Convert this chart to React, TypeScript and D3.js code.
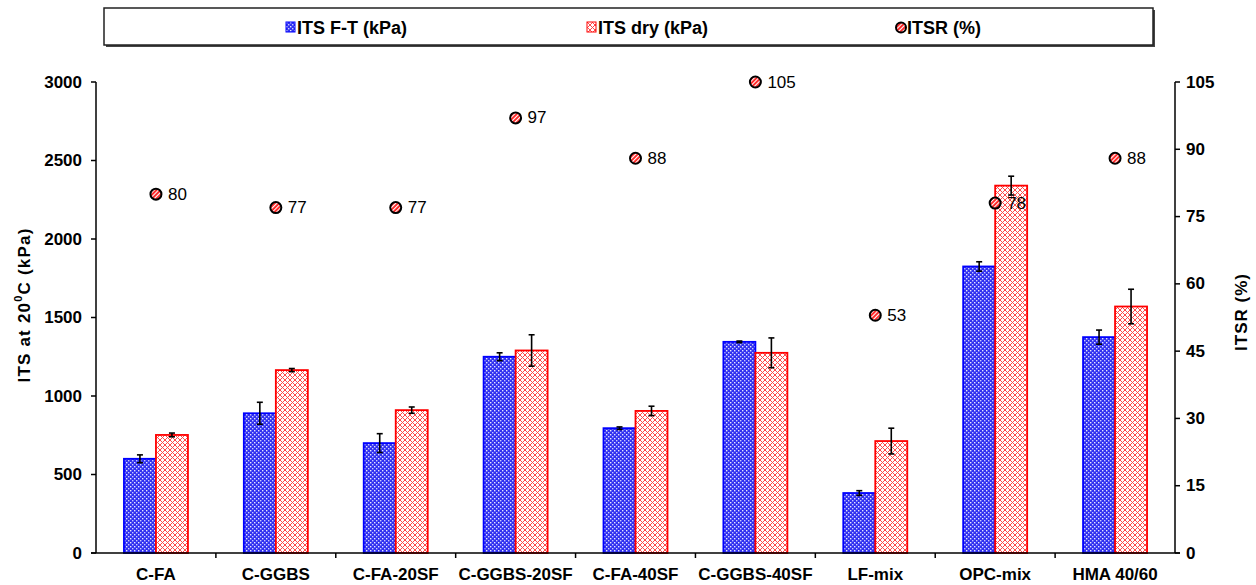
import React from "react";
import * as d3 from "d3";

// Mix designs on the category axis
const categories = ["C-FA", "C-GGBS", "C-FA-20SF", "C-GGBS-20SF", "C-FA-40SF", "C-GGBS-40SF", "LF-mix", "OPC-mix", "HMA 40/60"];
// Indirect tensile strength after freeze-thaw conditioning (kPa) and its spread
const itsFT = [600, 890, 700, 1250, 795, 1345, 382, 1825, 1375];
const itsFTErr = [25, 70, 60, 25, 8, 5, 15, 30, 45];
// Indirect tensile strength of dry specimens (kPa) and its spread
const itsDry = [752, 1165, 910, 1290, 905, 1275, 713, 2340, 1570];
const itsDryErr = [12, 10, 20, 100, 30, 95, 82, 60, 110];
// Strength ratio (%)
const itsr = [80, 77, 77, 97, 88, 105, 53, 78, 88];

const leftTicks = [0, 500, 1000, 1500, 2000, 2500, 3000];
const rightTicks = [0, 15, 30, 45, 60, 75, 90, 105];

const W = 1256;
const H = 585;
const M = { left: 96, right: 1175, top: 82, bottom: 553 };
const FONT = "'Liberation Sans', Arial, sans-serif";

export default function App() {
  const x = d3.scaleBand<string>().domain(categories).range([M.left, M.right]);
  const yL = d3.scaleLinear().domain([0, 3000]).range([M.bottom, M.top]);
  const yR = d3.scaleLinear().domain([0, 105]).range([M.bottom, M.top]);
  const barW = 32;

  const errBar = (cx: number, v: number, e: number, key: string) => (
    <g key={key} stroke="#000" strokeWidth={1.6}>
      <line x1={cx} x2={cx} y1={yL(v - e)} y2={yL(v + e)} />
      <line x1={cx - 3} x2={cx + 3} y1={yL(v - e)} y2={yL(v - e)} />
      <line x1={cx - 3} x2={cx + 3} y1={yL(v + e)} y2={yL(v + e)} />
    </g>
  );

  return (
    <svg width={W} height={H} style={{ position: "absolute", left: 0, top: 0, background: "#fff" }} fontFamily={FONT}>
      <defs>
        <pattern id="dotsBlue" width="4" height="4" patternUnits="userSpaceOnUse">
          <rect width="4" height="4" fill="#3030f0" />
          <rect x="0" y="0" width="1.4" height="1.4" fill="#c8c8ff" />
          <rect x="2" y="2" width="1.4" height="1.4" fill="#e6e6ff" />
        </pattern>
        <pattern id="hatchRed" width="5" height="5" patternUnits="userSpaceOnUse">
          <rect width="5" height="5" fill="#fff" />
          <path d="M0,0 L5,5 M5,0 L0,5" stroke="#ff4a4a" strokeWidth="1" />
        </pattern>
        <pattern id="stripeRed" width="3" height="3" patternUnits="userSpaceOnUse" patternTransform="rotate(45)">
          <rect width="3" height="3" fill="#ff2020" />
          <rect width="1.1" height="3" fill="#fff" />
        </pattern>
      </defs>

      {/* Legend */}
      <rect x={106} y={10} width={1049} height={37} fill="#444" />
      <rect x={104} y={8} width={1049} height={37} fill="#fff" stroke="#222" strokeWidth={1.5} />
      <g fontSize={18} fontWeight="bold" dominantBaseline="central">
        <rect x={286} y={22} width={9} height={10} fill="url(#dotsBlue)" stroke="#0000ff" strokeWidth={1} />
        <text x={297} y={28}>ITS F-T (kPa)</text>
        <rect x={587} y={22} width={9} height={10} fill="url(#hatchRed)" stroke="#ff0000" strokeWidth={1} />
        <text x={598} y={28}>ITS dry (kPa)</text>
        <circle cx={901} cy={27.5} r={5} fill="url(#stripeRed)" stroke="#000" strokeWidth={2} />
        <text x={907} y={28}>ITSR (%)</text>
      </g>

      {/* Bars */}
      {categories.map((c, i) => {
        const cx = (x(c) as number) + x.bandwidth() / 2;
        return (
          <g key={c}>
            <rect x={cx - barW} y={yL(itsFT[i])} width={barW} height={yL(0) - yL(itsFT[i])} fill="url(#dotsBlue)" stroke="#0000ff" strokeWidth={1.8} />
            <rect x={cx} y={yL(itsDry[i])} width={barW} height={yL(0) - yL(itsDry[i])} fill="url(#hatchRed)" stroke="#ff0000" strokeWidth={1.8} />
            {errBar(cx - barW / 2, itsFT[i], itsFTErr[i], "ef" + i)}
            {errBar(cx + barW / 2, itsDry[i], itsDryErr[i], "ed" + i)}
          </g>
        );
      })}

      {/* ITSR markers and labels */}
      {categories.map((c, i) => {
        const cx = (x(c) as number) + x.bandwidth() / 2;
        const cy = yR(itsr[i]);
        return (
          <g key={"p" + c}>
            <circle cx={cx} cy={cy} r={5.5} fill="url(#stripeRed)" stroke="#000" strokeWidth={2} />
            <text x={cx + 12} y={cy} fontSize={17} dominantBaseline="central">{itsr[i]}</text>
          </g>
        );
      })}

      {/* Axes */}
      <g stroke="#000" strokeWidth={1.5} fill="none">
        <line x1={M.left} x2={M.left} y1={M.top} y2={M.bottom} />
        <line x1={M.right} x2={M.right} y1={M.top} y2={M.bottom} />
        <line x1={M.left - 5} x2={M.right + 5} y1={M.bottom} y2={M.bottom} />
        {leftTicks.map((t) => (
          <line key={"lt" + t} x1={M.left - 5} x2={M.left} y1={yL(t)} y2={yL(t)} />
        ))}
        {rightTicks.map((t) => (
          <line key={"rt" + t} x1={M.right} x2={M.right + 5} y1={yR(t)} y2={yR(t)} />
        ))}
        {categories.slice(0, -1).map((c, i) => {
          const bx = (x(c) as number) + x.bandwidth();
          return <line key={"bt" + i} x1={bx} x2={bx} y1={M.bottom} y2={M.bottom + 5} />;
        })}
      </g>

      <g fontSize={17} fontWeight="bold">
        {leftTicks.map((t) => (
          <text key={"ll" + t} x={M.left - 14} y={yL(t)} textAnchor="end" dominantBaseline="central">{t}</text>
        ))}
        {rightTicks.map((t) => (
          <text key={"rl" + t} x={M.right + 11} y={yR(t)} textAnchor="start" dominantBaseline="central">{t}</text>
        ))}
      </g>

      <g fontSize={17} fontWeight="bold">
        {categories.map((c) => (
          <text key={"cl" + c} x={(x(c) as number) + x.bandwidth() / 2} y={574} textAnchor="middle" dominantBaseline="central">{c}</text>
        ))}
      </g>

      {/* Axis titles */}
      <text transform={`translate(24,305) rotate(-90)`} textAnchor="middle" fontSize={17} fontWeight="bold" letterSpacing={1.2} dominantBaseline="central">
        ITS at 20<tspan fontSize={11} dy={-6}>0</tspan><tspan dy={6}>C (kPa)</tspan>
      </text>
      <text transform={`translate(1241,312) rotate(-90)`} textAnchor="middle" fontSize={17} fontWeight="bold" letterSpacing={1} dominantBaseline="central">
        ITSR (%)
      </text>
    </svg>
  );
}
